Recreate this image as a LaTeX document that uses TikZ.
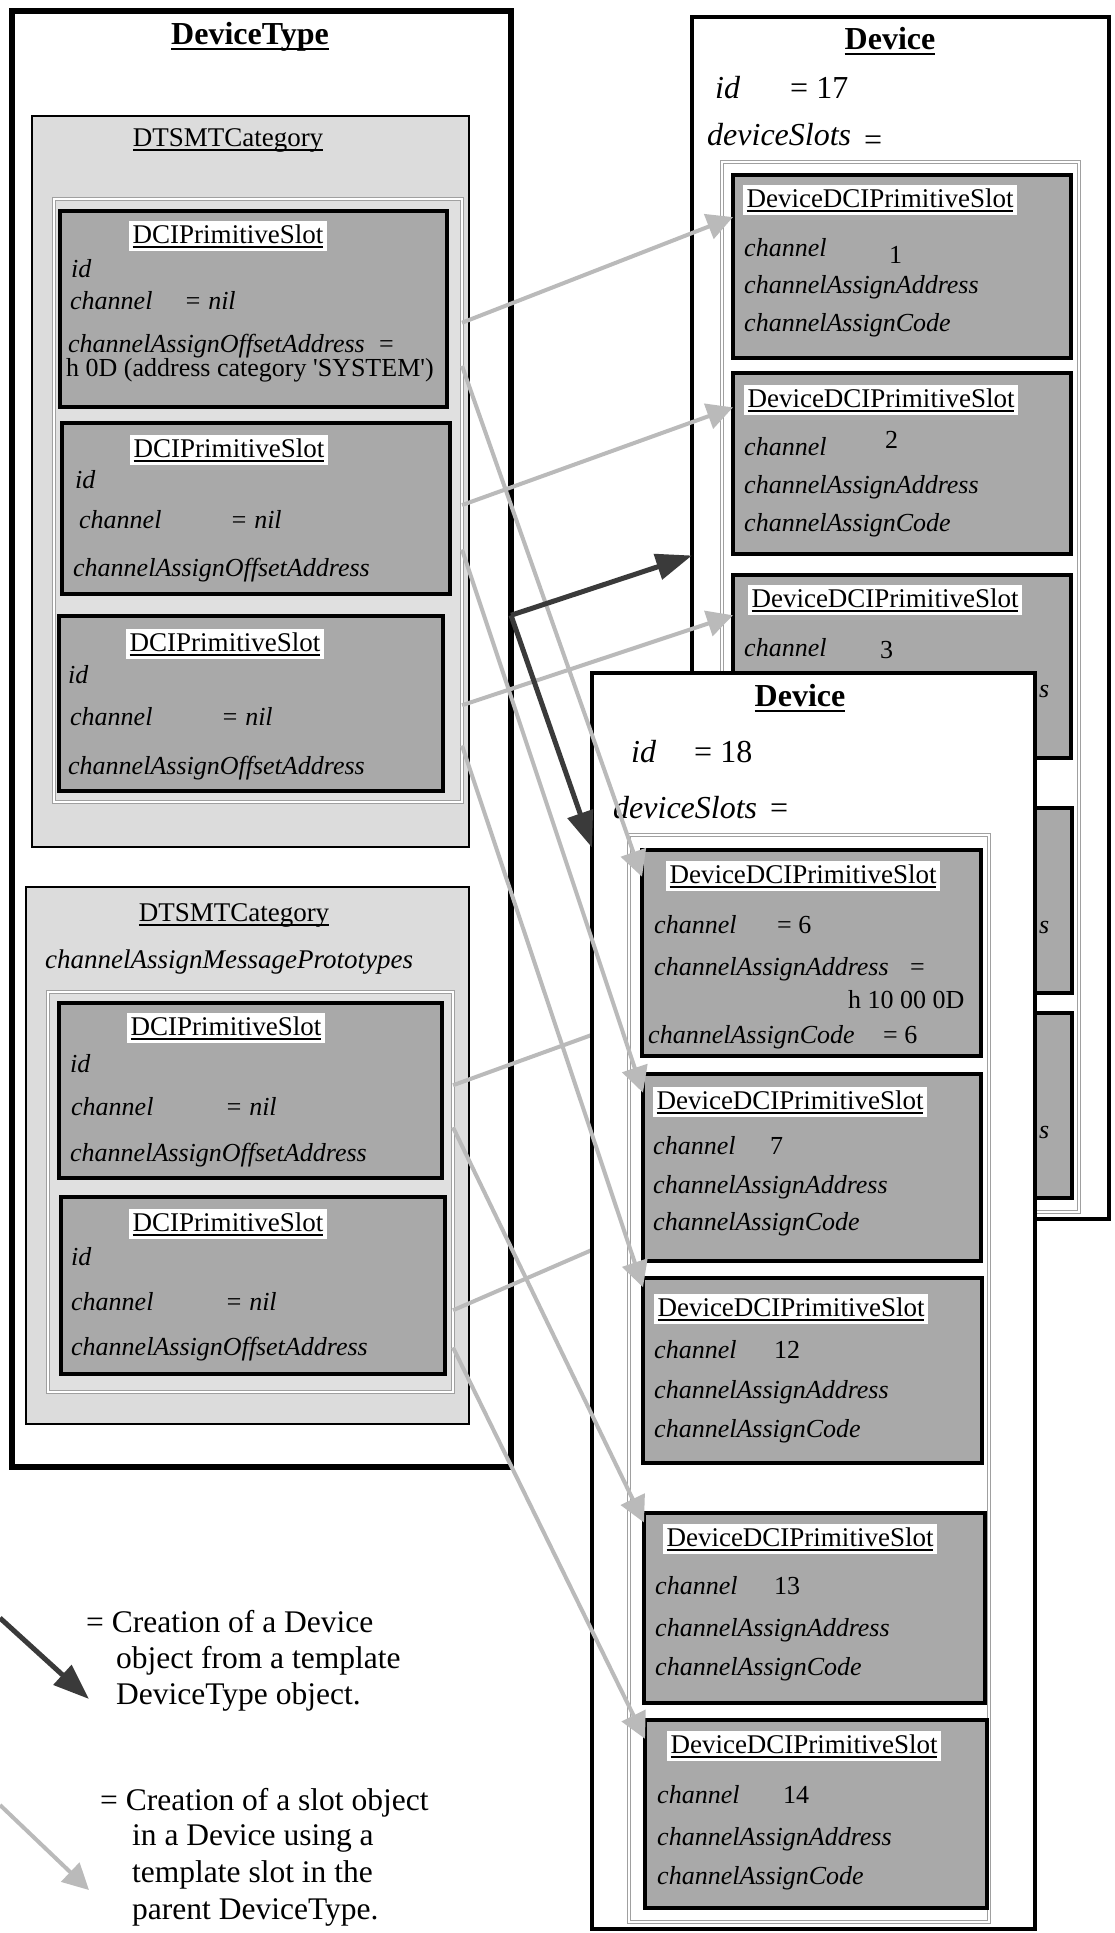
\documentclass[tikz,border=0pt]{standalone}
\usepackage{fontspec}
\setmainfont{Liberation Serif}
\usetikzlibrary{arrows.meta,calc,fit}

\definecolor{slotgray}{HTML}{A9A9A9}
\definecolor{catgray}{HTML}{DCDCDC}
\definecolor{listgray}{HTML}{E0E0E0}
\definecolor{rimgray}{HTML}{A0A0A0}
\definecolor{linkgray}{HTML}{BABABA}
\definecolor{makegray}{HTML}{3A3A3A}

% heavy underline for class names
\newcommand\ulx[1]{\setbox0\hbox{#1}\rlap{\copy0}\vrule width\wd0 height -0.11em depth 0.18em\relax}
\newcommand\fhead{\fontsize{32}{38}\selectfont}
\newcommand\fbody{\fontsize{26}{31}\selectfont}
\newcommand\fslotname{\fontsize{27}{32}\selectfont}
\newcommand\fnote{\fontsize{31.5}{37}\selectfont}

\tikzset{
  box/.style={inner sep=0pt, outer sep=0pt},
  typeframe/.style={box, draw=black, fill=white, line width=6pt},
  devframe/.style={box, draw=black, fill=white, line width=4.5pt},
  catframe/.style={box, draw=black, fill=catgray, line width=2.5pt},
  listframe/.style={box, draw=rimgray, fill=listgray, line width=1pt, double=white, double distance=1.2pt},
  devlist/.style={box, draw=rimgray, fill=white, line width=1pt, double=white, double distance=1.2pt},
  slotframe/.style={box, draw=black, fill=slotgray, line width=3.5pt},
  head/.style={font=\fhead\bfseries, anchor=base, inner sep=0pt},
  catname/.style={font=\fslotname, anchor=base, inner sep=0pt},
  slotname/.style={font=\fslotname, anchor=base, fill=white, inner xsep=4pt, inner ysep=3pt},
  fld/.style={font=\fbody\itshape, anchor=base west, inner sep=0pt},
  val/.style={font=\fbody, anchor=base west, inner sep=0pt},
  devfld/.style={font=\fhead\itshape, anchor=base west, inner sep=0pt},
  devval/.style={font=\fhead, anchor=base west, inner sep=0pt},
  note/.style={font=\fnote, anchor=base west, inner sep=0pt},
  link/.style={draw=linkgray, line width=4pt, -{Triangle[length=26pt,width=26pt]}},
  make/.style={draw=makegray, line width=5pt, -{Triangle[length=36pt,width=26pt]}},
}

\begin{document}
\begin{tikzpicture}[x=1pt,y=-1pt]
\useasboundingbox (0,0) rectangle (1114,1933);
\fill[white] (0,0) rectangle (1114,1933);

% ---------------- DeviceType template ----------------
\node[typeframe, fit={(12,11) (511,1467)}] (dt) {};
\node[head] (dtname) at (250,44) {\ulx{DeviceType}};

% first category
\node[catframe, fit={(32,116) (469,847)}] (cat1) {};
\node[catname] (cat1name) at (228,146) {\ulx{DTSMTCategory}};
\node[listframe, fit={(54,199) (462,802)}] (list1) {};

\node[slotframe, fit={(60,211) (447,407)}] (a1) {};
\node[slotname] (a1n) at (228,243) {\ulx{DCIPrimitiveSlot}};
\node[fld] (a1id) at (71,277) {id};
\node[fld] (a1ch) at (70,309) {channel};
\node[fld] (a1chv) at (184,309) {= nil};
\node[fld] (a1off) at (68,352) {channelAssignOffsetAddress};
\node[val] (a1offeq) at (379,352) {=};
\node[val] (a1offv) at (66,376) {h 0D (address category \textquotesingle SYSTEM\textquotesingle)};

\node[slotframe, fit={(62,423) (450,594)}] (a2) {};
\node[slotname] (a2n) at (229,457) {\ulx{DCIPrimitiveSlot}};
\node[fld] (a2id) at (75,488) {id};
\node[fld] (a2ch) at (79,528) {channel};
\node[fld] (a2chv) at (230,528) {= nil};
\node[fld] (a2off) at (73,576) {channelAssignOffsetAddress};

\node[slotframe, fit={(59,616) (443,791)}] (a3) {};
\node[slotname] (a3n) at (225,651) {\ulx{DCIPrimitiveSlot}};
\node[fld] (a3id) at (68,683) {id};
\node[fld] (a3ch) at (70,725) {channel};
\node[fld] (a3chv) at (221,725) {= nil};
\node[fld] (a3off) at (68,774) {channelAssignOffsetAddress};

% second category
\node[catframe, fit={(26,887) (469,1424)}] (cat2) {};
\node[catname] (cat2name) at (234,921) {\ulx{DTSMTCategory}};
\node[fld, font=\fslotname\itshape] (cat2msg) at (45,968) {channelAssignMessagePrototypes};
\node[listframe, fit={(48,992) (453,1392)}] (list2) {};

\node[slotframe, fit={(59,1003) (442,1178)}] (a4) {};
\node[slotname] (a4n) at (226,1035) {\ulx{DCIPrimitiveSlot}};
\node[fld] (a4id) at (70,1072) {id};
\node[fld] (a4ch) at (71,1115) {channel};
\node[fld] (a4chv) at (225,1115) {= nil};
\node[fld] (a4off) at (70,1161) {channelAssignOffsetAddress};

\node[slotframe, fit={(61,1197) (445,1374)}] (a5) {};
\node[slotname] (a5n) at (228,1231) {\ulx{DCIPrimitiveSlot}};
\node[fld] (a5id) at (71,1265) {id};
\node[fld] (a5ch) at (71,1310) {channel};
\node[fld] (a5chv) at (225,1310) {= nil};
\node[fld] (a5off) at (71,1355) {channelAssignOffsetAddress};

% exit points of the slot links, on the right rim of each slot list
\path ($(a1.north east)!0.57!(a1.south east)$) coordinate (a1u) ($(a1.north east)!0.79!(a1.south east)$) coordinate (a1d);
\path ($(a2.north east)!0.48!(a2.south east)$) coordinate (a2u) ($(a2.north east)!0.74!(a2.south east)$) coordinate (a2d);
\path ($(a3.north east)!0.51!(a3.south east)$) coordinate (a3u) ($(a3.north east)!0.74!(a3.south east)$) coordinate (a3d);
\path ($(a4.north east)!0.47!(a4.south east)$) coordinate (a4u) ($(a4.north east)!0.71!(a4.south east)$) coordinate (a4d);
\path ($(a5.north east)!0.64!(a5.south east)$) coordinate (a5u) ($(a5.north east)!0.85!(a5.south east)$) coordinate (a5d);

% ---------------- Device 17 (behind) ----------------
\node[devframe, fit={(692,17) (1109,1219)}] (d17) {};
\node[head] (d17name) at (890,49) {\ulx{Device}};
\node[devfld] (d17id) at (715,98) {id};
\node[devval] (d17idv) at (790,98) {= 17};
\node[devfld] (d17sl) at (707,145) {deviceSlots};
\node[devval] (d17sleq) at (864,150) {=};
\node[devlist, fit={(722,162) (1079,1212)}] (list17) {};

\node[slotframe, fit={(733,175) (1071,358)}] (b1) {};
\node[slotname] (b1n) at (880,207) {\ulx{DeviceDCIPrimitiveSlot}};
\node[fld] (b1ch) at (744,256) {channel};
\node[val] (b1chv) at (889,263) {1};
\node[fld] (b1addr) at (744,293) {channelAssignAddress};
\node[fld] (b1code) at (744,331) {channelAssignCode};

\node[slotframe, fit={(733,373) (1071,554)}] (b2) {};
\node[slotname] (b2n) at (881,407) {\ulx{DeviceDCIPrimitiveSlot}};
\node[fld] (b2ch) at (744,455) {channel};
\node[val] (b2chv) at (885,448) {2};
\node[fld] (b2addr) at (744,493) {channelAssignAddress};
\node[fld] (b2code) at (744,531) {channelAssignCode};

\node[slotframe, fit={(733,575) (1071,758)}] (b3) {};
\node[slotname] (b3n) at (885,607) {\ulx{DeviceDCIPrimitiveSlot}};
\node[fld] (b3ch) at (744,656) {channel};
\node[val] (b3chv) at (880,658) {3};
\node[fld] (b3addr) at (1039,697) {s};

\node[slotframe, fit={(733,808) (1072,993)}] (b4) {};
\node[fld] (b4addr) at (1039,933) {s};

\node[slotframe, fit={(733,1013) (1072,1198)}] (b5) {};
\node[fld] (b5addr) at (1039,1138) {s};

% slot creation links into Device 17
\draw[link] (a1u -| list1.east) -- ($(b1.north west)!0.23!(b1.south west)$);
\draw[link] (a2u -| list1.east) -- ($(b2.north west)!0.19!(b2.south west)$);
\draw[link] (a3u -| list1.east) -- ($(b3.north west)!0.22!(b3.south west)$);
\draw[link] (a4u -| list2.east) -- ($(b4.north west)!0.95!(b4.south west)$);
\draw[link] (a5u -| list2.east) -- ($(b5.north west)!0.95!(b5.south west)$);

% ---------------- Device 18 (front) ----------------
\node[devframe, fit={(592,673) (1035,1929)}] (d18) {};
\node[head] (d18name) at (800,706) {\ulx{Device}};
\node[devfld] (d18id) at (631,762) {id};
\node[devval] (d18idv) at (694,762) {= 18};
\node[devfld] (d18sl) at (613,818) {deviceSlots};
\node[devval] (d18sleq) at (770,818) {=};
\node[devlist, fit={(629,835) (989,1922)}] (list18) {};

\node[slotframe, fit={(642,850) (981,1056)}] (c1) {};
\node[slotname] (c1n) at (803,883) {\ulx{DeviceDCIPrimitiveSlot}};
\node[fld] (c1ch) at (654,933) {channel};
\node[val] (c1chv) at (777,933) {= 6};
\node[fld] (c1addr) at (654,975) {channelAssignAddress};
\node[val] (c1addreq) at (910,975) {=};
\node[val] (c1addrv) at (848,1008) {h 10 00 0D};
\node[fld] (c1code) at (648,1043) {channelAssignCode};
\node[val] (c1codev) at (883,1043) {= 6};

\node[slotframe, fit={(643,1074) (981,1261)}] (c2) {};
\node[slotname] (c2n) at (790,1109) {\ulx{DeviceDCIPrimitiveSlot}};
\node[fld] (c2ch) at (653,1154) {channel};
\node[val] (c2chv) at (770,1154) {7};
\node[fld] (c2addr) at (653,1193) {channelAssignAddress};
\node[fld] (c2code) at (653,1230) {channelAssignCode};

\node[slotframe, fit={(643,1278) (982,1463)}] (c3) {};
\node[slotname] (c3n) at (791,1316) {\ulx{DeviceDCIPrimitiveSlot}};
\node[fld] (c3ch) at (654,1358) {channel};
\node[val] (c3chv) at (774,1358) {12};
\node[fld] (c3addr) at (654,1398) {channelAssignAddress};
\node[fld] (c3code) at (654,1437) {channelAssignCode};

\node[slotframe, fit={(644,1513) (985,1703)}] (c4) {};
\node[slotname] (c4n) at (800,1546) {\ulx{DeviceDCIPrimitiveSlot}};
\node[fld] (c4ch) at (655,1594) {channel};
\node[val] (c4chv) at (774,1594) {13};
\node[fld] (c4addr) at (655,1636) {channelAssignAddress};
\node[fld] (c4code) at (655,1675) {channelAssignCode};

\node[slotframe, fit={(645,1720) (987,1908)}] (c5) {};
\node[slotname] (c5n) at (804,1753) {\ulx{DeviceDCIPrimitiveSlot}};
\node[fld] (c5ch) at (657,1803) {channel};
\node[val] (c5chv) at (783,1803) {14};
\node[fld] (c5addr) at (657,1845) {channelAssignAddress};
\node[fld] (c5code) at (657,1884) {channelAssignCode};

% slot creation links into Device 18
\draw[link] (a1d -| list1.east) -- ($(c1.north west)!0.13!(c1.south west)$);
\draw[link] (a2d -| list1.east) -- ($(c2.north west)!0.10!(c2.south west)$);
\draw[link] (a3d -| list1.east) -- ($(c3.north west)!0.05!(c3.south west)$);
\draw[link] (a4d -| list2.east) -- ($(c4.north west)!0.05!(c4.south west)$);
\draw[link] (a5d -| list2.east) -- ($(c5.north west)!0.10!(c5.south west)$);

% device creation from the template
\coordinate (src) at ($(dt.north east)!0.415!(dt.south east)$);
\draw[make] (src) -- ($(d17.north west)!0.448!(d17.south west)$);
\draw[make] (src) -- ($(d18.north west)!0.139!(d18.south west)$);

% ---------------- key ----------------
\coordinate (k1) at (0,1618);
\coordinate (k1tip) at (89,1699);
\draw[make] (k1) -- (k1tip);
\node[note] (k1a) at (86,1632) {= Creation of a Device};
\node[note] (k1b) at (116,1668) {object from a template};
\node[note] (k1c) at (116,1704) {DeviceType object.};

\coordinate (k2) at (0,1805);
\coordinate (k2tip) at (89,1890);
\draw[link] (k2) -- (k2tip);
\node[note] (k2a) at (100,1810) {= Creation of a slot object};
\node[note] (k2b) at (132,1845) {in a Device using a};
\node[note] (k2c) at (132,1882) {template slot in the};
\node[note] (k2d) at (132,1919) {parent DeviceType.};
\end{tikzpicture}
\end{document}
